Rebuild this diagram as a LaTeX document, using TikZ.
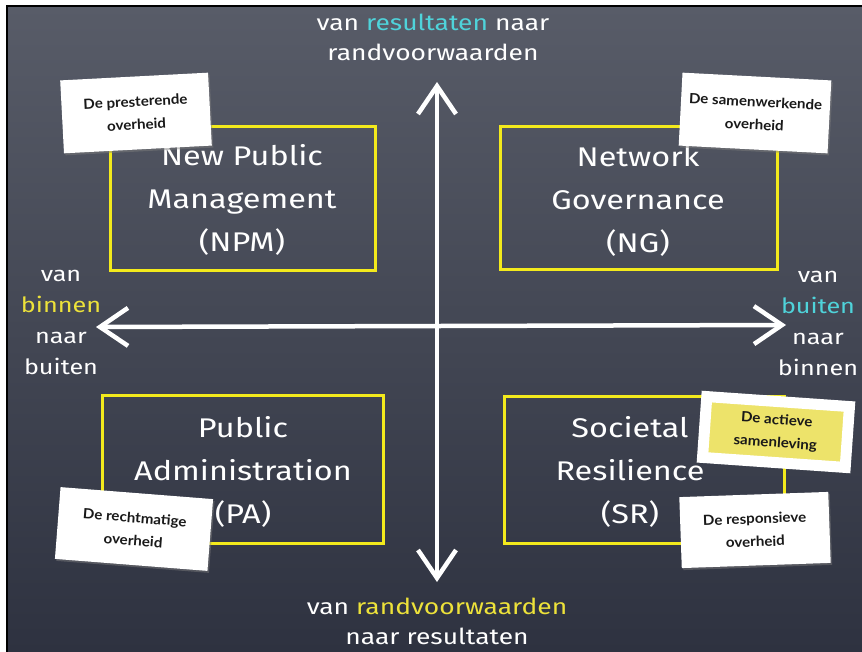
\documentclass[tikz,border=0pt]{standalone}
\usepackage{fontspec}
\usetikzlibrary{arrows.meta,shadows}
\newfontfamily\chalkfont[FakeStretch=1.2]{Fira Sans}
\newfontfamily\notefont[FakeStretch=1.08]{Lato}
\definecolor{boardtop}{HTML}{585C68}
\definecolor{boardbot}{HTML}{2E3240}
\definecolor{chalkyellow}{HTML}{EDE23A}
\definecolor{chalkcyan}{HTML}{4FD3DA}
\definecolor{boxyellow}{HTML}{F3EA1C}
\definecolor{noteyellow}{HTML}{EDE36A}
\tikzset{
  chalk/.style={text=white, font=\chalkfont\fontsize{22}{30}\selectfont, align=center, inner sep=0pt},
  quadtext/.style={text=white, font=\chalkfont\fontsize{27}{43}\selectfont, align=center, inner sep=0pt},
  quadbox/.style={draw=boxyellow, line width=3pt, inner sep=0pt},
  note/.style={fill=white, text=black!90, font=\notefont\bfseries\fontsize{14}{23}\selectfont, align=center,
    inner sep=0pt, drop shadow={opacity=0.45, shadow xshift=1.5pt, shadow yshift=-2pt}},
  axis/.style={white, line width=4.5pt, line cap=round,
    {Straight Barb[length=28pt,width=38pt]}-{Straight Barb[length=28pt,width=38pt]}}
}

\begin{document}
\begin{tikzpicture}[x=1pt,y=-1pt]
  \fill[white] (0,0) rectangle (862,652);
  \useasboundingbox (0,0) rectangle (862,652);
  \shade[top color=boardtop, bottom color=boardbot] (7,6) rectangle (862,652);
  \draw[black, line width=1.5pt] (7,652) -- (7,6) -- (862,6);

  % axes
  \coordinate (top) at (437,82);
  \coordinate (bot) at (437,582);
  \coordinate (left) at (96,327);
  \coordinate (right) at (786,325);
  \draw[axis] (bot) -- (top);
  \draw[axis] (left) -- (right);

  % quadrants
  \node[quadbox, minimum width=265pt, minimum height=144pt] (npm) at (242.5,199) {};
  \node[quadbox, minimum width=277pt, minimum height=143pt] (ng)  at (638.5,198.5) {};
  \node[quadbox, minimum width=281pt, minimum height=148pt] (pa)  at (242.5,469) {};
  \node[quadbox, minimum width=280pt, minimum height=147pt] (sr)  at (644,469.5) {};
  \node[quadtext] (npmtext) at (242,200) {New Public\\Management\\(NPM)};
  \node[quadtext] (ngtext)  at (638,201) {Network\\Governance\\(NG)};
  \node[quadtext] (patext)  at (243,472) {Public\\Administration\\(PA)};
  \node[quadtext] (srtext)  at (630,472) {Societal\\Resilience\\(SR)};

  % labels at the axes
  \node[chalk] (toptext) at (433,37) {van {\color{chalkcyan}resultaten} naar\\randvoorwaarden};
  \node[chalk] (bottext) at (437,621) {van {\color{chalkyellow}randvoorwaarden}\\naar resultaten};
  \node[chalk, font=\chalkfont\fontsize{21}{31}\selectfont] (lefttext) at (61,322)
    {van\\{\color{chalkyellow}binnen}\\naar\\buiten};
  \node[chalk, font=\chalkfont\fontsize{21}{31}\selectfont] (righttext) at (818,323)
    {van\\{\color{chalkcyan}buiten}\\naar\\binnen};

  % notes
  \node[note, rotate=3, minimum width=148pt, minimum height=73pt] (pres) at (136,113)
    {De presterende\\overheid};
  \node[note, rotate=-3, minimum width=149pt, minimum height=73pt] (samen) at (755,113)
    {De samenwerkende\\overheid};
  \node[note, rotate=-4.5, minimum width=153pt, minimum height=72pt] (recht) at (134,529)
    {De rechtmatige\\overheid};
  \node[note, rotate=2, minimum width=149pt, minimum height=71pt] (resp) at (755,530)
    {De responsieve\\overheid};
  \node[note, fill=noteyellow, draw=white, line width=11pt, rotate=-4,
    minimum width=143pt, minimum height=61pt] (actief) at (776,432)
    {De actieve\\samenleving};
\end{tikzpicture}
\end{document}
